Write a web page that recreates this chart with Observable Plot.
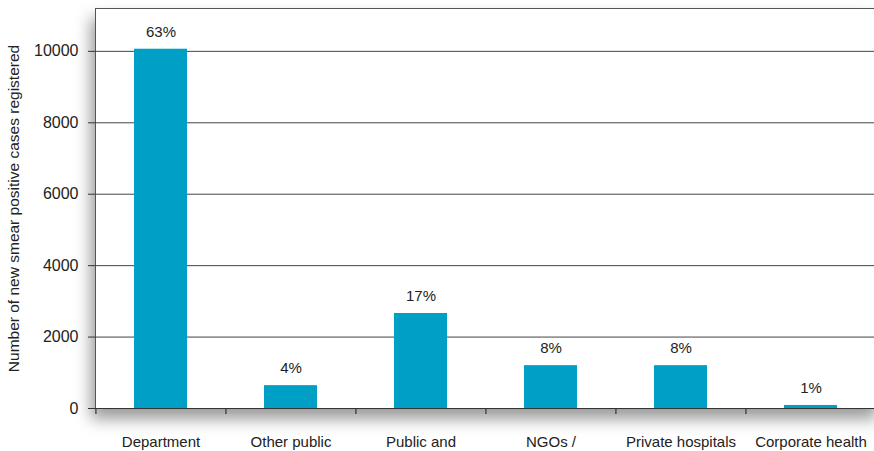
<!DOCTYPE html>
<html>
<head>
<meta charset="utf-8">
<script src="https://cdn.jsdelivr.net/npm/d3@7"></script>
<script src="https://cdn.jsdelivr.net/npm/@observablehq/plot@0.6"></script>
<style>
  html, body { margin: 0; padding: 0; background: #fff; }
  #chart svg { display: block; }
</style>
</head>
<body>
<div id="chart"></div>
<script>
const categories = ["Department", "Other public", "Public and", "NGOs /", "Private hospitals", "Corporate health"];
const cases = [10060, 640, 2660, 1200, 1200, 85];
const shares = ["63%", "4%", "17%", "8%", "8%", "1%"];
const yTicks = [0, 2000, 4000, 6000, 8000, 10000];
const yLabel = "Number of new smear positive cases registered";

const data = categories.map((c, i) => ({category: c, cases: cases[i], share: shares[i]}));

const barColor = "#00a0c6";
const ink = "#222";

const plot = Plot.plot({
  width: 874,
  height: 451,
  marginLeft: 95,
  marginRight: 0,
  marginTop: 8,
  marginBottom: 43,
  style: {fontFamily: "'Liberation Sans', Arial, Helvetica, sans-serif", fontSize: "15px", color: ink, background: "transparent", overflow: "visible"},
  x: {domain: categories, range: [95, 876], paddingInner: 0.59, paddingOuter: 0.295, align: 0.5, label: null},
  y: {domain: [0, 11200], label: null},
  marks: [
    Plot.frame({fill: "white", stroke: "#555", strokeWidth: 1, insetRight: -6}),
    Plot.ruleY(yTicks, {stroke: "#444", strokeWidth: 1}),
    Plot.barY(data, {x: "category", y: "cases", fill: barColor}),
    Plot.ruleX(categories, {x: d => d, dx: -65.08, y1: 0, y2: 0, insetBottom: -6, stroke: "#333", strokeWidth: 1.2}),
    Plot.ruleY([0], {stroke: "#333", strokeWidth: 1.2}),
    Plot.text(data, {x: "category", y: "cases", text: "share", dy: -17, fill: ink, fontSize: 15}),
    Plot.axisY({ticks: yTicks, tickSize: 7, tickPadding: 10, tickFormat: d => String(d), fontSize: 16, stroke: "#333", label: null}),
    Plot.axisX({tickSize: 0, tickPadding: 28, fontSize: 15, label: null}),
    Plot.text([yLabel], {frameAnchor: "left", textAnchor: "middle", dx: -81, rotate: -90, text: d => d, fontSize: 15.5, fill: ink})
  ]
});

const frame = plot.querySelector('[aria-label="frame"]');
if (frame) frame.style.filter = "drop-shadow(-4px 10px 8px rgba(0,0,0,0.4))";

document.getElementById("chart").appendChild(plot);
</script>
</body>
</html>
